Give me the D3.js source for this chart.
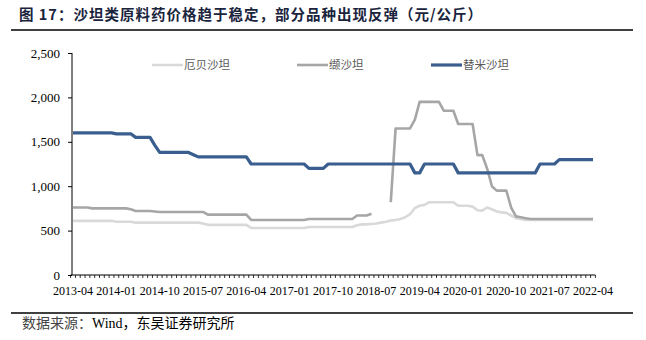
<!DOCTYPE html>
<html>
<head>
<meta charset="utf-8">
<script src="https://cdn.jsdelivr.net/npm/d3@7"></script>
<style>
  html, body { margin: 0; padding: 0; background: #fff; }
  svg { display: block; }
</style>
</head>
<body>
<svg id="chart" width="646" height="340"></svg>
<script>
// ---- DATA ----
const startMonth = "2013-04";
const endMonth = "2022-04";
const tickLabels = ["2013-04","2014-01","2014-10","2015-07","2016-04","2017-01","2017-10",
                    "2018-07","2019-04","2020-01","2020-10","2021-07","2022-04"];
const yTicks = [0, 500, 1000, 1500, 2000, 2500];
const seriesNames = ["厄贝沙坦", "缬沙坦", "替米沙坦"];

// 厄贝沙坦 (irbesartan)
const irbesartan = [
  610,610,610,610,610,610,610,610,610,
  600,600,600,600,
  590,590,590,590,590,590,590,590,590,590,590,590,590,590,
  580,
  565,565,565,565,565,565,565,565,565,
  530,530,530,530,530,530,530,530,530,530,530,530,
  540,540,540,540,540,540,540,540,540,540,
  560,570,570,575,580,590,600,615,620,630,650,685,755,780,790,
  820,820,820,820,820,820,
  780,780,780,
  770,730,725,760,740,715,705,700,670,640,630,
  620,620,620,620,620,620,620,620,620,620,620,620,620,620,620
];
// 缬沙坦 (valsartan), null = no quote
const valsartan = [
  760,760,760,760,
  750,750,750,750,750,750,750,750,
  740,
  720,720,720,720,
  715,
  710,710,710,710,710,710,710,710,710,710,
  680,680,680,680,680,680,680,680,680,
  620,620,620,620,620,620,620,620,620,620,620,620,
  630,630,630,630,630,630,630,630,630,630,
  670,670,670,
  690,
  null,null,null,
  820,
  1650,1650,1650,1650,
  1750,
  1950,1950,1950,1950,1950,
  1850,1850,1850,
  1700,1700,1700,1700,
  1350,1350,
  1200,1000,
  950,950,950,
  760,660,650,640,
  630,630,630,630,630,630,630,630,630,630,630,630,630,630
];
// 替米沙坦 (telmisartan)
const telmisartan = [
  1600,1600,1600,1600,1600,1600,1600,1600,1600,
  1590,1590,1590,1590,
  1550,1550,1550,1550,
  1460,
  1380,1380,1380,1380,1380,1380,1380,
  1355,
  1330,1330,1330,1330,1330,1330,1330,1330,1330,1330,1330,
  1250,1250,1250,1250,1250,1250,1250,1250,1250,1250,1250,1250,
  1200,1200,1200,1200,
  1250,1250,1250,1250,1250,1250,1250,1250,1250,1250,1250,1250,1250,1250,1250,1250,1250,1250,
  1150,1150,
  1250,1250,1250,1250,1250,1250,1250,
  1150,1150,1150,1150,1150,1150,1150,1150,1150,1150,1150,1150,1150,1150,1150,1150,1150,
  1250,1250,1250,1250,
  1300,1300,1300,1300,1300,1300,1300,1300
];

// ---- BUILD ----
const parse = d3.timeParse("%Y-%m");
const fmt = d3.timeFormat("%Y-%m");
const months = d3.timeMonth.range(parse(startMonth), d3.timeMonth.offset(parse(endMonth), 1)).map(fmt);

const seriesData = [irbesartan, valsartan, telmisartan];
const colors = ["#d9d9d9", "#a6a6a6", "#3a5f8f"];
const widths = [2.6, 2.6, 3.2];

const svg = d3.select("#chart");

const x = d3.scaleBand().domain(months).range([70.6, 595.4]).paddingInner(0).paddingOuter(0);
const y = d3.scaleLinear().domain([0, 2500]).range([275, 53]);
const cx = m => x(m) + x.bandwidth() / 2;

// Title
svg.append("text")
  .attr("x", 19).attr("y", 20)
  .attr("font-family", "'Noto Sans CJK SC', sans-serif")
  .attr("font-weight", "bold")
  .attr("font-size", 14.5)
  .attr("letter-spacing", 1)
  .attr("fill", "#1a243d")
  .text("图 17：沙坦类原料药价格趋于稳定，部分品种出现反弹（元/公斤）");

svg.append("line").attr("x1", 11).attr("x2", 633).attr("y1", 30).attr("y2", 30)
  .attr("stroke", "#000").attr("stroke-width", 1.6);
svg.append("line").attr("x1", 11).attr("x2", 633).attr("y1", 313).attr("y2", 313)
  .attr("stroke", "#000").attr("stroke-width", 1.6);

// Y axis
const yAxis = d3.axisLeft(y).tickValues(yTicks).tickFormat(d3.format(",")).tickSize(4).tickPadding(8);
const gy = svg.append("g").attr("transform", "translate(72,0)").call(yAxis);
gy.select(".domain").attr("stroke", "#000").attr("d", `M0,${y(2500)}V${y(0)}`);
gy.selectAll(".tick line").attr("stroke", "#000");
gy.selectAll(".tick text")
  .attr("font-family", "'Liberation Serif', 'Times New Roman', serif")
  .attr("font-size", 13).attr("fill", "#000");

// X axis
const gx = svg.append("g").attr("transform", "translate(0,275)");
gx.append("line").attr("x1", x.range()[0]).attr("x2", x.range()[1]).attr("y1", 0).attr("y2", 0)
  .attr("stroke", "#000");
const boundaries = months.map(m => x(m)).concat([x.range()[1]]);
gx.selectAll("line.minor").data(boundaries).enter().append("line")
  .attr("class", "minor")
  .attr("x1", d => d).attr("x2", d => d).attr("y1", 0).attr("y2", 3)
  .attr("stroke", "#000").attr("stroke-width", 0.8);
gx.selectAll("text.lab").data(tickLabels).enter().append("text")
  .attr("class", "lab")
  .attr("x", d => cx(d)).attr("y", 20)
  .attr("text-anchor", "middle")
  .attr("font-family", "'Liberation Serif', 'Times New Roman', serif")
  .attr("font-size", 12).attr("fill", "#000")
  .text(d => d);

// Lines
const line = d3.line()
  .defined(d => d.v !== null)
  .x(d => cx(d.m))
  .y(d => y(d.v));

seriesData.forEach((vals, i) => {
  const pts = months.map((m, j) => ({ m, v: vals[j] }));
  svg.append("path").datum(pts)
    .attr("fill", "none")
    .attr("stroke", colors[i])
    .attr("stroke-width", widths[i])
    .attr("stroke-linejoin", "round")
    .attr("stroke-linecap", "butt")
    .attr("d", line);
});

// Legend
const legendX = [152, 297, 431];
const leg = svg.selectAll("g.leg").data(seriesNames).enter().append("g")
  .attr("class", "leg")
  .attr("transform", (d, i) => `translate(${legendX[i]},65)`);
leg.append("line").attr("x1", 0).attr("x2", 31).attr("y1", 0).attr("y2", 0)
  .attr("stroke", (d, i) => colors[i]).attr("stroke-width", (d, i) => widths[i]);
leg.append("text").attr("x", 32).attr("y", 4)
  .attr("font-family", "'Noto Sans CJK SC', sans-serif")
  .attr("font-size", 11.5).attr("fill", "#595959")
  .text(d => d);

// Source
const src = svg.append("text").attr("x", 22).attr("y", 328)
  .attr("font-size", 14).attr("fill", "#000");
src.append("tspan").attr("font-family", "'Noto Sans CJK SC', sans-serif").attr("fill", "#444").text("数据来源：");
src.append("tspan").attr("font-family", "'Liberation Serif', serif").text("Wind");
src.append("tspan").attr("font-family", "'Noto Sans CJK SC', sans-serif").text("，东吴证券研究所");
</script>
</body>
</html>
